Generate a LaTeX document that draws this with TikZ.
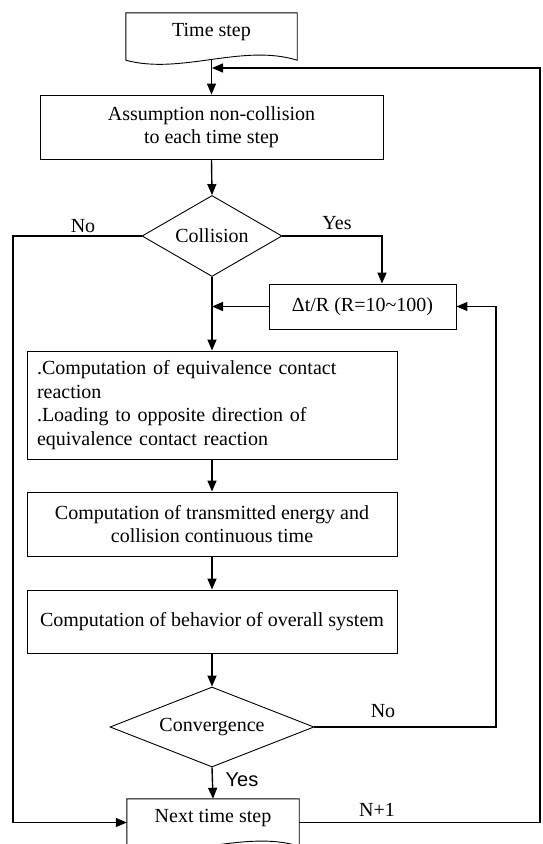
\documentclass[tikz,border=0pt]{standalone}
\usepackage{fontspec}
\setmainfont{Liberation Serif}
\newfontfamily\arialfont{Liberation Sans}
\usepackage{tikz}
\usetikzlibrary{
  arrows.meta,
  calc,
  shapes.geometric}

% document shape drawn round a node
\newcommand{\docoutline}[1]{%
  \draw[shapeline] (#1.south west) -- (#1.north west) -- (#1.north east) -- (#1.south east)
    .. controls ($(#1.south west)!0.68!(#1.south east)+(0,-17)$)
    and ($(#1.south west)!0.32!(#1.south east)+(0,15)$) .. (#1.south west);}

\begin{document}
\begin{tikzpicture}[x=1pt,y=-1pt,
    font=\fontsize{20}{23.5}\selectfont,
    >={Triangle[length=11pt,width=9pt]},
    shapeline/.style={line width=0.9pt},
    box/.style={draw,shapeline,inner sep=0pt},
    decide/.style={draw,shapeline,diamond,aspect=2,inner sep=0pt},
    docnode/.style={inner sep=0pt,text height=13pt,text depth=13pt},
    flow/.style={->,line width=1.4pt}]
        \useasboundingbox (0,0) rectangle (543,844);
        \clip (0,0) rectangle (543,844);
        % blocks
        \node (tstart) at (211.5,36.5) [docnode,minimum width=171pt,minimum height=47pt] {Time step};
        \docoutline{tstart}
        \node (assume) at (211.5,127) [box,minimum width=343pt,minimum height=64pt,align=center] {Assumption non-collision\\to each time step};
        \node (collide) at (212,236) [decide,minimum width=140pt,minimum height=81pt] {Collision};
        \node (deltat) at (362.5,306.5) [box,minimum width=187pt,minimum height=45pt] {Δt/R (R=10\textasciitilde100)};
        \node (contact) at (212,405) [box,minimum width=370pt,minimum height=108pt,text width=350pt,align=left] {.Computation of equivalence contact\\reaction\\.Loading to opposite direction of\\equivalence contact reaction};
        \node (energy) at (212,524) [box,minimum width=370pt,minimum height=64pt,align=center] {Computation of transmitted energy and\\collision continuous time};
        \node (behave) at (212,621.5) [box,minimum width=370pt,minimum height=63pt] {Computation of behavior of overall system};
        \node (conv) at (212,727) [decide,minimum width=204pt,minimum height=80pt] {Convergence};
        \node (tnext) at (213,822.5) [docnode,minimum width=172pt,minimum height=47pt] {Next time step};
        \docoutline{tnext}
        % bends
        \coordinate (loopin) at (212,68);
        \coordinate (loopne) at (540,68);
        \coordinate (loopse) at (540,822.5);
        \coordinate (nonw) at (13,236);
        \coordinate (nosw) at (13,822.5);
        \coordinate (yesne) at (382,236);
        \coordinate (backse) at (496,727);
        \coordinate (backne) at (496,306.5);
        % connectors
        \draw[flow] (tstart.south) -- (assume.north);
        \draw[flow] (assume.south) -- (collide.north);
        \draw[flow] (collide.south) -- (contact.north);
        \draw[flow] (collide.east) -- (yesne) -- (yesne |- deltat.north);
        \draw[flow] (deltat.west) -- (deltat.west -| contact.north);
        \draw[flow] (contact.south) -- (energy.north);
        \draw[flow] (energy.south) -- (behave.north);
        \draw[flow] (behave.south) -- (conv.north);
        \draw[flow] (conv.south) -- (tnext.north);
        \draw[flow] (conv.east) -- (backse) -- (backne) -- (deltat.east);
        \draw[flow] (collide.west) -- (nonw) -- (nosw) -- (tnext.west);
        \draw[flow] (tnext.east) -- (loopse) -- (loopne) -- (loopin);
        % labels
        \node (nocol) at (83,226) {No};
        \node (yescol) at (337,223) {Yes};
        \node (noconv) at (383,711) {No};
        \node (yesconv) at (242,780) {\arialfont Yes};
        \node (nplus) at (377,810) {N+1};
\end{tikzpicture}
\end{document}
